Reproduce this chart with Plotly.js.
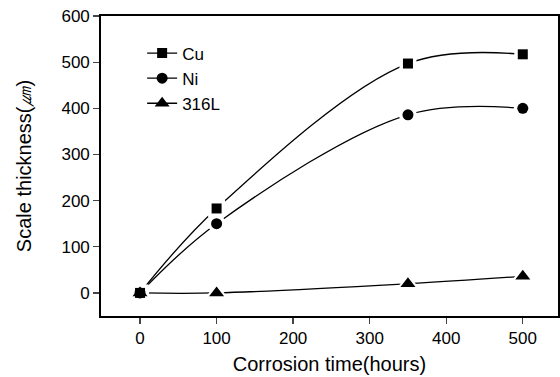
<!DOCTYPE html>
<html>
<head>
<meta charset="utf-8">
<script src="https://cdn.plot.ly/plotly-3.0.1.min.js"></script>
<style>html,body{margin:0;padding:0;background:#fff;}#chart{width:560px;height:377px;}</style>
</head>
<body>
<div id="chart"></div>
<script>
const hours = [0, 100, 350, 500];
const cu = [0, 183, 497, 517];
const ni = [0, 150, 386, 400];
const ss316L = [0, 0, 20, 36];
const seriesNames = ['Cu', 'Ni', '316L'];
const xTicks = [0, 100, 200, 300, 400, 500];
const yTicks = [0, 100, 200, 300, 400, 500, 600];

const FONT = 'Liberation Sans, Arial, sans-serif';
const series = [
  {y: ss316L, name: seriesNames[2], symbol: 'triangle-up', size: 13},
  {y: ni, name: seriesNames[1], symbol: 'circle', size: 11},
  {y: cu, name: seriesNames[0], symbol: 'square', size: 10}
];
const data = [];
// lines (with legend)
series.slice().reverse().forEach(s => data.push({
  x: hours, y: s.y, name: s.name, type: 'scatter', mode: 'lines+markers',
  line: {color: '#000', width: 1.3, shape: 'spline', smoothing: 1},
  marker: {symbol: s.symbol, size: s.size, color: '#000'}
}));
// white halos to make gaps between curve and markers
series.forEach(s => data.push({
  x: hours, y: s.y, type: 'scatter', mode: 'markers', showlegend: false, hoverinfo: 'skip',
  marker: {symbol: s.symbol, size: s.size + 7, color: '#fff', line: {width: 0}}
}));
// black markers on top
series.forEach(s => data.push({
  x: hours, y: s.y, type: 'scatter', mode: 'markers', showlegend: false, hoverinfo: 'skip',
  marker: {symbol: s.symbol, size: s.size, color: '#000', line: {width: 0}}
}));
const layout = {
  width: 560, height: 377,
  margin: {l: 101, r: 2, t: 16, b: 61},
  paper_bgcolor: '#fff', plot_bgcolor: '#fff',
  font: {family: FONT, color: '#000', size: 17},
  showlegend: true,
  legend: {x: 0.09, y: 0.935, xanchor: 'left', yanchor: 'top', bgcolor: 'rgba(0,0,0,0)',
           font: {family: FONT, size: 17}, tracegroupgap: 0},
  xaxis: {
    range: [-51, 546], tickvals: xTicks, ticks: 'outside', ticklen: 6, tickwidth: 1.3,
    showline: true, linewidth: 1.8, linecolor: '#000', mirror: true, showgrid: false, zeroline: false,
    tickfont: {family: FONT, size: 17},
    title: {text: 'Corrosion time(hours)', font: {family: FONT, size: 20}, standoff: 10}
  },
  yaxis: {
    range: [-50, 600], tickvals: yTicks, ticks: 'outside', ticklen: 6, tickwidth: 1.3,
    showline: true, linewidth: 1.8, linecolor: '#000', mirror: true, showgrid: false, zeroline: false,
    tickfont: {family: FONT, size: 17},
    title: {text: 'Scale thickness(<i>㎛</i>)', font: {family: FONT, size: 20}, standoff: 24}
  }
};
Plotly.newPlot('chart', data, layout, {displayModeBar: false, staticPlot: true});
</script>
</body>
</html>
